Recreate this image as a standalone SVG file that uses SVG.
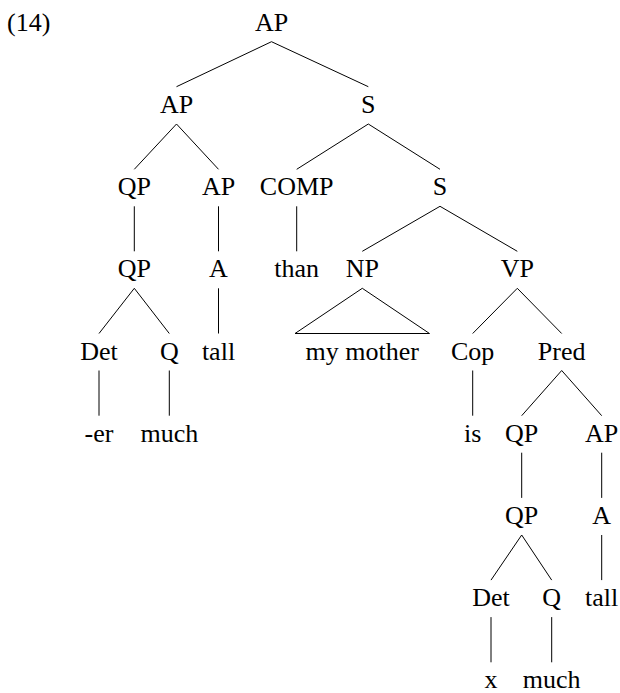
<svg xmlns="http://www.w3.org/2000/svg" width="620" height="693" viewBox="0 0 620 693">
<style>
text{font-size:26px;fill:#000;text-anchor:middle}
.lbl{text-anchor:start}
#edges line,#edges polygon{stroke:#000;stroke-width:1;fill:none}
</style>
<rect width="620" height="693" fill="#fff"/>
<g font-family="'Times New Roman', 'Liberation Serif', Tinos, 'Noto Serif', serif">
<text class="lbl" x="7" y="31">(14)</text>
<g id="edges">
<line x1="271.5" y1="41.7" x2="176.5" y2="86.7"/>
<line x1="271.5" y1="41.7" x2="368.3" y2="86.7"/>
<line x1="176.5" y1="124" x2="134.3" y2="169.3"/>
<line x1="176.5" y1="124" x2="218.5" y2="169.3"/>
<line x1="368.3" y1="124" x2="296.7" y2="169.3"/>
<line x1="368.3" y1="124" x2="440" y2="169.3"/>
<line x1="134.3" y1="206.3" x2="134.3" y2="251.3"/>
<line x1="218.5" y1="206.3" x2="218.5" y2="251.3"/>
<line x1="296.7" y1="206.3" x2="296.7" y2="251.3"/>
<line x1="440" y1="206.3" x2="362.3" y2="251.3"/>
<line x1="440" y1="206.3" x2="517.3" y2="251.3"/>
<line x1="134.3" y1="288.3" x2="99" y2="333.5"/>
<line x1="134.3" y1="288.3" x2="169.3" y2="333.5"/>
<line x1="218.5" y1="288.3" x2="218.5" y2="333.5"/>
<polygon points="362.3,288.3 295,333.5 429.5,333.5"/>
<line x1="517.3" y1="288.3" x2="472.7" y2="333.5"/>
<line x1="517.3" y1="288.3" x2="561.7" y2="333.5"/>
<line x1="99" y1="370.5" x2="99" y2="415.7"/>
<line x1="169.3" y1="370.5" x2="169.3" y2="415.7"/>
<line x1="472.7" y1="370.5" x2="472.7" y2="415.7"/>
<line x1="561.7" y1="370.5" x2="521.7" y2="415.7"/>
<line x1="561.7" y1="370.5" x2="601.7" y2="415.7"/>
<line x1="521.7" y1="452.7" x2="521.7" y2="497.9"/>
<line x1="601.7" y1="452.7" x2="601.7" y2="497.9"/>
<line x1="521.7" y1="535" x2="491" y2="580.1"/>
<line x1="521.7" y1="535" x2="551.7" y2="580.1"/>
<line x1="601.7" y1="535" x2="601.7" y2="580.1"/>
<line x1="491" y1="617.1" x2="491" y2="662.3"/>
<line x1="551.7" y1="617.1" x2="551.7" y2="662.3"/>
</g>
<g id="n-ap0"><text x="271.5" y="30.7">AP</text></g>
<g id="n-ap1"><text x="176.5" y="112.9">AP</text></g>
<g id="n-s1"><text x="368.3" y="112.9">S</text></g>
<g id="n-qp2"><text x="134.3" y="195.1">QP</text></g>
<g id="n-ap2"><text x="218.5" y="195.1">AP</text></g>
<g id="n-comp"><text x="296.7" y="195.1">COMP</text></g>
<g id="n-s2"><text x="440" y="195.1">S</text></g>
<g id="n-qp3"><text x="134.3" y="277.3">QP</text></g>
<g id="n-a3"><text x="218.5" y="277.3">A</text></g>
<g id="n-than"><text x="296.7" y="277.3">than</text></g>
<g id="n-np"><text x="362.3" y="277.3">NP</text></g>
<g id="n-vp"><text x="517.3" y="277.3">VP</text></g>
<g id="n-det1"><text x="99" y="359.5">Det</text></g>
<g id="n-q1"><text x="169.3" y="359.5">Q</text></g>
<g id="n-tall1"><text x="218.5" y="359.5">tall</text></g>
<g id="n-mymother"><text x="362.3" y="359.5">my mother</text></g>
<g id="n-cop"><text x="472.7" y="359.5">Cop</text></g>
<g id="n-pred"><text x="561.7" y="359.5">Pred</text></g>
<g id="n-er"><text x="99" y="441.7">-er</text></g>
<g id="n-much1"><text x="169.3" y="441.7">much</text></g>
<g id="n-is"><text x="472.7" y="441.7">is</text></g>
<g id="n-qp5"><text x="521.7" y="441.7">QP</text></g>
<g id="n-ap5"><text x="601.7" y="441.7">AP</text></g>
<g id="n-qp6"><text x="521.7" y="523.9">QP</text></g>
<g id="n-a6"><text x="601.7" y="523.9">A</text></g>
<g id="n-det2"><text x="491" y="606.1">Det</text></g>
<g id="n-q2"><text x="551.7" y="606.1">Q</text></g>
<g id="n-tall2"><text x="601.7" y="606.1">tall</text></g>
<g id="n-x"><text x="491" y="688.3">x</text></g>
<g id="n-much2"><text x="551.7" y="688.3">much</text></g>
</g>
</svg>
